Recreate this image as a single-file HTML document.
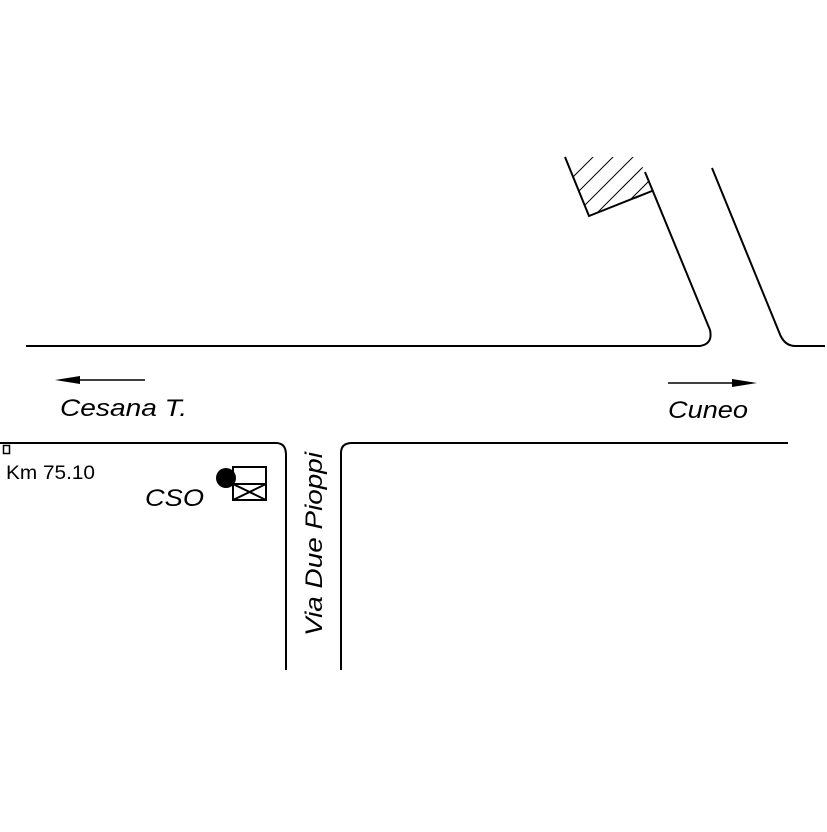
<!DOCTYPE html>
<html><head><style>html,body{margin:0;padding:0;background:#fff}</style></head>
<body>
<svg width="827" height="827" viewBox="0 0 827 827" xmlns="http://www.w3.org/2000/svg">
<defs>
<clipPath id="c"><polygon points="565,157 589,216 652,191 644,171 639,157"/></clipPath>
</defs>
<g fill="none" stroke="#000" stroke-width="2">
<g clip-path="url(#c)" stroke-width="1">
<line x1="560" y1="190" x2="600" y2="150"/>
<line x1="570" y1="200" x2="620" y2="150"/>
<line x1="575" y1="215" x2="640" y2="150"/>
<line x1="590" y1="220" x2="660" y2="150"/>
<line x1="610" y1="220" x2="680" y2="150"/>
<line x1="630" y1="220" x2="700" y2="150"/>
</g>
<polyline points="565,157 589,216 652,191"/>
<path d="M645,172 L710,330 Q713,344 700,346 L26,346"/>
<path d="M712,168 L779,332 Q784,346 795,346 L825,346"/>
<path d="M0,443 L276,443 Q286,443 286,455 L286,670"/>
<path d="M341,670 L341,453 Q341,443 352,443 L788,443"/>
<line x1="70" y1="380" x2="145" y2="380" stroke-width="1.5"/>
<line x1="668" y1="383" x2="740" y2="383" stroke-width="1.5"/>
<rect x="3.5" y="445.5" width="6" height="8" stroke-width="1.5"/>
<rect x="233" y="467" width="33" height="33"/>
<path d="M233,484 L266,484 M233,484 L266,500 M233,500 L266,484"/>
</g>
<polygon points="55,380 80,376 80,384" fill="#000"/>
<polygon points="757,383 732,379 732,387" fill="#000"/>
<circle cx="226" cy="478" r="10" fill="#000"/>
<g font-family="Liberation Sans, sans-serif" fill="#000">
<text x="60" y="416" font-size="24" font-style="italic" textLength="127" lengthAdjust="spacingAndGlyphs">Cesana T.</text>
<text x="668" y="418" font-size="24" font-style="italic" textLength="80" lengthAdjust="spacingAndGlyphs">Cuneo</text>
<text x="6" y="479" font-size="19" textLength="89" lengthAdjust="spacingAndGlyphs">Km 75.10</text>
<text x="145" y="506" font-size="24" font-style="italic" textLength="59" lengthAdjust="spacingAndGlyphs">CSO</text>
<text transform="translate(322,636) rotate(-90)" font-size="24" font-style="italic" textLength="184" lengthAdjust="spacingAndGlyphs">Via Due Pioppi</text>
</g>
</svg>
</body></html>
